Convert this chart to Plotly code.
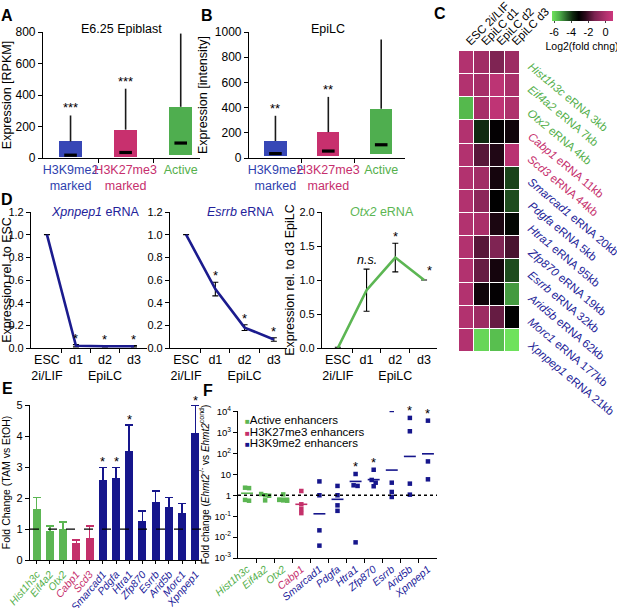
import plotly.graph_objects as go
import numpy as np

W, H = 617, 608
FONT = "Liberation Sans, Arial, sans-serif"
GREEN = "#55b04c"
MAG = "#c62f6d"
BLUE = "#22229a"

# ---------------- data ----------------
# Panel A (E6.25 epiblast, RPKM)
a_labels = ["H3K9me2<br>marked", "H3K27me3<br>marked", "Active"]
a_q1 = [5, 8, 18]
a_med = [18, 35, 95]
a_q3 = [105, 180, 325]
a_upper = [270, 440, 790]
a_sig = ["***", "***", ""]
# Panel B (EpiLC, intensity)
b_q1 = [15, 15, 32]
b_med = [35, 55, 105]
b_q3 = [135, 205, 390]
b_upper = [335, 485, 940]
b_sig = ["**", "**", ""]

# Panel C heatmap (log2 fold change)
c_cols = ["ESC 2i/LIF", "EpiLC d1", "EpiLC d2", "EpiLC d3"]
c_genes = ["Hist1h3c", "Eif4a2", "Otx2", "Cabp1", "Scd3", "Smarcad1", "Pdgfa",
           "Htra1", "Zfp870", "Esrrb", "Arid5b", "Morc1", "Xpnpep1"]
c_dist = ["3kb", "7kb", "4kb", "11kb", "44kb", "20kb", "5kb", "95kb", "19kb",
          "32kb", "62kb", "177kb", "21kb"]
c_group = ["act", "act", "act", "k27", "k27", "k9", "k9", "k9", "k9", "k9", "k9", "k9", "k9"]
c_z = [
    [0.0, -0.4, -1.2, -0.5],
    [0.0, -0.3, 0.3, -0.2],
    [-5.6, -0.3, 0.4, -0.1],
    [0.0, -3.9, -3.1, -2.9],
    [0.0, -1.8, -2.6, 0.2],
    [0.0, -0.4, -2.8, -4.2],
    [0.0, -0.9, -3.2, -4.3],
    [0.0, -0.2, -2.7, -3.3],
    [0.0, -1.8, -1.2, -2.0],
    [0.0, -1.6, -2.8, -4.3],
    [0.0, -2.9, -3.1, -5.2],
    [0.0, -0.5, -1.6, -3.2],
    [0.0, -6.1, -5.7, -6.3],
]

# Panel D time courses
d_x = ["ESC<br>2i/LIF", "d1", "d2<br>EpiLC", "d3"]
d_xpnpep1 = [1.0, 0.02, 0.015, 0.015]
d_xpnpep1_err = [0.0, 0.01, 0.006, 0.006]
d_xpnpep1_sig = ["", "*", "*", "*"]
d_esrrb = [1.0, 0.52, 0.18, 0.075]
d_esrrb_err = [0.0, 0.06, 0.025, 0.015]
d_esrrb_sig = ["", "*", "*", "*"]
d_otx2 = [0.0, 0.85, 1.33, 1.0]
d_otx2_err = [0.01, 0.31, 0.21, 0.0]

# Panel E (TAM vs EtOH)
e_genes = ["Hist1h3c", "Eif4a2", "Otx2", "Cabp1", "Scd3", "Smarcad1", "Pdgfa",
           "Htra1", "Zfp870", "Esrrb", "Arid5b", "Morc1", "Xpnpep1"]
e_group = ["act", "act", "act", "k27", "k27", "k9", "k9", "k9", "k9", "k9", "k9", "k9", "k9"]
e_val = [1.62, 0.9, 0.98, 0.52, 0.68, 2.58, 2.62, 3.5, 1.25, 1.86, 1.7, 1.5, 4.08]
e_err = [0.4, 0.2, 0.25, 0.13, 0.42, 0.42, 0.38, 0.87, 0.33, 0.37, 0.33, 0.33, 0.92]
e_sig = ["", "", "", "", "", "*", "*", "*", "", "", "", "", "*"]

# Panel F (Ehmt2 -/- vs cond, log scale)
f_genes = ["Hist1h3c", "Eif4a2", "Otx2", "Cabp1", "Smarcad1", "Pdgfa", "Htra1",
           "Zfp870", "Esrrb", "Arid5b", "Xpnpep1"]
f_group = ["act", "act", "act", "k27", "k9", "k9", "k9", "k9", "k9", "k9", "k9"]
f_points = [
    [2.3, 2.2, 0.55, 0.6],
    [1.15, 1.0, 0.95, 0.57],
    [1.1, 0.6, 0.55, 0.57],
    [1.6, 0.37, 0.22, 0.14],
    [4.6, 1.0, 0.021, 0.0039],
    [2.8, 1.0, 0.33, 0.18],
    [10.4, 3.0, 2.8, 0.0056],
    [16.6, 5.4, 4.0, 2.7],
    [12000, 4.0, 1.44, 0.83],
    [5000, 1150, 3.6, 1.07],
    [3700, 41.6, 5.8],
]
f_mean = [1.25, 1.0, 0.72, 0.37, 0.13, 0.64, 4.6, 5.6, 16, 72, 96]
f_sig = ["", "", "", "", "", "", "*", "*", "", "*", "*"]
f_legend = ["Active enhancers", "H3K27me3 enhancers", "H3K9me2 enhancers"]

GCOL = {"act": GREEN, "k27": MAG, "k9": BLUE}

# ---------------- helpers ----------------
def xd(a, b):
    return [a / W, b / W]


def yd(top, bot):
    return [1 - bot / H, 1 - top / H]


def px(x):
    return x / W


def py(y):
    return 1 - y / H


def cspan(t, c, italic=True):
    t2 = f"<i>{t}</i>" if italic else t
    return f"<span style='color:{c}'>{t2}</span>"


AX = dict(showline=True, linecolor="black", linewidth=1.2, ticks="outside",
          ticklen=4, tickcolor="black", tickwidth=1.1, showgrid=False,
          zeroline=False, automargin=False, tickfont=dict(size=12, color="black"))

fig = go.Figure()
annots = []


def panel_letter(t, x, y):
    annots.append(dict(text=f"<b>{t}</b>", x=px(x), y=py(y), xref="paper", yref="paper",
                       showarrow=False, font=dict(size=16, color="black"),
                       xanchor="center", yanchor="middle"))


def title_note(t, x, y, color="black", size=12.5):
    annots.append(dict(text=t, x=px(x), y=py(y), xref="paper", yref="paper",
                       showarrow=False, xanchor="center", yanchor="middle",
                       font=dict(size=size, color=color)))


# ---------------- A & B box-like plots ----------------
box_cols = ["#3747b6", "#c8306e", "#4fae4f"]


def add_box(xa, ya, q1, med, q3, up, sig):
    xs = list(range(len(q1)))
    fig.add_trace(go.Bar(x=xs, y=np.array(q3) - np.array(q1), base=q1, width=0.42,
                         marker=dict(color=box_cols, line=dict(width=0)),
                         xaxis=xa, yaxis=ya, showlegend=False))
    wx, wy = [], []
    for i in xs:
        wx += [i, i, None]
        wy += [q3[i], up[i], None]
    fig.add_trace(go.Scatter(x=wx, y=wy, mode="lines", line=dict(color="#1a1a1a", width=1.6),
                             xaxis=xa, yaxis=ya, showlegend=False))
    fig.add_trace(go.Scatter(x=xs, y=med, mode="markers",
                             marker=dict(symbol="line-ew", size=9, line=dict(width=3.2, color="black")),
                             xaxis=xa, yaxis=ya, showlegend=False))
    for i in xs:
        if sig[i]:
            annots.append(dict(text=sig[i], x=i, y=up[i], xref=xa, yref=ya, showarrow=False,
                               yanchor="bottom", yshift=-2, font=dict(size=13, color="black")))


add_box("x", "y", a_q1, a_med, a_q3, a_upper, a_sig)
add_box("x2", "y2", b_q1, b_med, b_q3, b_upper, b_sig)

ab_ticktext = [cspan(a_labels[0], "#2f3fae", False), cspan(a_labels[1], MAG, False),
               cspan(a_labels[2], GREEN, False)]
fig.update_layout(
    xaxis=dict(AX, domain=xd(43, 200), range=[-0.5, 2.35], anchor="y", tickvals=[0, 1, 2],
               ticktext=ab_ticktext, ticks="", tickangle=0, tickfont=dict(size=12.5),
               minor=dict(tickvals=[0.5, 1.5], ticks="outside", ticklen=4, tickcolor="black")),
    yaxis=dict(AX, domain=yd(32, 158), range=[0, 800], dtick=200, anchor="x",
               title=dict(text="Expression [RPKM]", font=dict(size=12.5), standoff=4)),
    xaxis2=dict(AX, domain=xd(249, 405), range=[-0.5, 2.45], anchor="y2", tickvals=[0, 1, 2],
                ticktext=ab_ticktext, ticks="", tickangle=0, tickfont=dict(size=12.5),
                minor=dict(tickvals=[0.5, 1.5], ticks="outside", ticklen=4, tickcolor="black")),
    yaxis2=dict(AX, domain=yd(32, 158), range=[0, 1000], dtick=200, anchor="x2",
                title=dict(text="Expression [intensity]", font=dict(size=12.5), standoff=4)),
)
title_note("E6.25 Epiblast", 121, 29)
title_note("EpiLC", 328, 29)

# ---------------- C heatmap ----------------
cscale = [
    [0.0, "#6ee25c"], [0.12, "#4fb04a"], [0.25, "#265e26"], [0.34, "#0f280f"],
    [0.44, "#000000"], [0.55, "#2c0a1c"], [0.7, "#7a2250"], [0.89, "#b3326f"],
    [1.0, "#cc377c"],
]
fig.add_trace(go.Heatmap(
    z=c_z, x=list(range(len(c_cols))), y=list(range(len(c_genes))),
    xaxis="x3", yaxis="y3", colorscale=cscale, zmin=-6.3, zmax=0.8, xgap=1, ygap=1,
    colorbar=dict(orientation="h", x=px(582), xanchor="center", y=py(11), yanchor="top",
                  len=61 / W, lenmode="fraction", thickness=10, tickvals=[-6, -4, -2, 0],
                  ticktext=["-6", "-4", "-2", "0"],
                  ticks="outside", ticklen=2, tickfont=dict(size=11, color="black"),
                  outlinewidth=0, xpad=0, ypad=0,
                  title=dict(text="Log2(fold chng)", side="bottom", font=dict(size=10.5))),
    showscale=True, hoverinfo="skip"))
fig.update_layout(
    xaxis3=dict(domain=xd(459, 520), anchor="y3", side="top", tickvals=list(range(4)),
                ticktext=c_cols, tickangle=-45, ticks="", showline=False, showgrid=False,
                zeroline=False, automargin=False, tickfont=dict(size=11.5, color="black"),
                range=[-0.5, 3.5]),
    yaxis3=dict(domain=yd(51, 352), anchor="x3", range=[12.5, -0.5], autorange=False,
                showticklabels=False, ticks="", showline=False, showgrid=False,
                zeroline=False, automargin=False),
)
for i, g in enumerate(c_genes):
    annots.append(dict(text=f"<i>{g}</i> eRNA {c_dist[i]}", x=px(523), y=i, xref="paper",
                       yref="y3", showarrow=False, textangle=40, xanchor="left",
                       yanchor="top", yshift=5,
                       font=dict(size=11.5, color=GCOL[c_group[i]] if c_group[i] != "k9" else "#1e1e98")))

# ---------------- D line plots ----------------
DBLUE = "#1b1b8e"
DGREEN = "#5cb653"


def add_line(xa, ya, vals, err, color):
    fig.add_trace(go.Scatter(x=list(range(4)), y=vals, mode="lines",
                             line=dict(color=color, width=2.6),
                             error_y=dict(type="data", array=err, color="black", thickness=1.1, width=3),
                             xaxis=xa, yaxis=ya, showlegend=False))


add_line("x4", "y4", d_xpnpep1, d_xpnpep1_err, DBLUE)
add_line("x5", "y5", d_esrrb, d_esrrb_err, DBLUE)
add_line("x6", "y6", d_otx2, d_otx2_err, DGREEN)

DX = dict(AX, tickvals=[0, 1, 2, 3], ticktext=d_x, ticks="", tickangle=0, range=[-0.55, 3.45],
          tickfont=dict(size=12.5),
          minor=dict(tickvals=[0.5, 1.5, 2.5], ticks="outside", ticklen=4, tickcolor="black"))
DY = dict(AX, tickfont=dict(size=11))
fig.update_layout(
    xaxis4=dict(DX, domain=xd(31, 147), anchor="y4"),
    yaxis4=dict(DY, domain=yd(212, 348), anchor="x4", range=[0, 1.2], dtick=0.2, tickformat=".1f",
                title=dict(text="Expression rel. to ESC", font=dict(size=12.5), standoff=2)),
    xaxis5=dict(DX, domain=xd(170, 287), anchor="y5"),
    yaxis5=dict(DY, domain=yd(212, 348), anchor="x5", range=[0, 1.2], dtick=0.2, tickformat=".1f"),
    xaxis6=dict(DX, domain=xd(322, 437), anchor="y6"),
    yaxis6=dict(DY, domain=yd(212, 348), anchor="x6", range=[0, 2.0], dtick=0.5, tickformat=".1f",
                title=dict(text="Expression rel. to d3 EpiLC", font=dict(size=12.5), standoff=2)),
)
for xa, ya, vals, err, sig in [("x4", "y4", d_xpnpep1, d_xpnpep1_err, d_xpnpep1_sig),
                               ("x5", "y5", d_esrrb, d_esrrb_err, d_esrrb_sig)]:
    for i in range(4):
        if sig[i]:
            annots.append(dict(text=sig[i], x=i, y=vals[i] + err[i], xref=xa, yref=ya,
                               showarrow=False, yanchor="bottom", yshift=-3,
                               font=dict(size=13, color="black")))
annots.append(dict(text="<i>n.s.</i>", x=1, y=d_otx2[1] + d_otx2_err[1], xref="x6", yref="y6",
                   showarrow=False, yanchor="bottom", yshift=0, font=dict(size=12.5, color="black")))
annots.append(dict(text="*", x=2, y=d_otx2[2] + d_otx2_err[2], xref="x6", yref="y6",
                   showarrow=False, yanchor="bottom", yshift=-3, font=dict(size=13, color="black")))
annots.append(dict(text="*", x=3, y=d_otx2[3], xref="x6", yref="y6", showarrow=False,
                   yanchor="bottom", xshift=5, yshift=0, font=dict(size=13, color="black")))
title_note("<i>Xpnpep1</i> eRNA", 95, 212, BLUE)
title_note("<i>Esrrb</i> eRNA", 240, 212, BLUE)
title_note("<i>Otx2</i> eRNA", 382, 212, DGREEN)

# ---------------- E bar chart ----------------
EBLUE = "#16168c"
ECOL = {"act": "#5cb653", "k27": "#c4306a", "k9": EBLUE}
for grp in ["act", "k27", "k9"]:
    idx = [i for i, g in enumerate(e_group) if g == grp]
    fig.add_trace(go.Bar(x=[e_genes[i] for i in idx], y=[e_val[i] for i in idx], width=0.6,
                         marker=dict(color=ECOL[grp], line=dict(width=0)),
                         error_y=dict(type="data", symmetric=False,
                                      array=[e_err[i] for i in idx],
                                      arrayminus=[0] * len(idx), color=ECOL[grp],
                                      thickness=1.6, width=4),
                         xaxis="x7", yaxis="y7", showlegend=False))
for i, s in enumerate(e_sig):
    if s:
        annots.append(dict(text=s, x=e_genes[i], y=e_val[i] + e_err[i], xref="x7", yref="y7",
                           showarrow=False, yanchor="bottom", yshift=-4,
                           font=dict(size=13, color="black")))
fig.add_shape(type="line", xref="x7 domain", yref="y7", x0=0, x1=1, y0=1, y1=1,
              line=dict(color="black", width=1.3, dash="dash"))
fig.update_layout(
    xaxis7=dict(AX, domain=xd(30, 202), anchor="y7", type="category", categoryorder="array",
                categoryarray=e_genes, tickvals=e_genes, ticklen=3,
                ticktext=[cspan(g, GCOL[e_group[i]]) for i, g in enumerate(e_genes)],
                tickangle=-50, tickfont=dict(size=10.5), range=[-0.5, 12.5]),
    yaxis7=dict(AX, domain=yd(405, 560), anchor="x7", range=[0, 5.02], dtick=1,
                tickfont=dict(size=11),
                title=dict(text="Fold Change (TAM vs EtOH)", font=dict(size=10.5), standoff=4)),
)

# ---------------- F scatter (log) ----------------
def swarm_offsets(vals, thr=0.15, step=0.22):
    order = np.argsort(np.log10(vals))[::-1]
    lv = np.log10(np.array(vals))
    groups, cur = [], [order[0]]
    for k in order[1:]:
        if abs(lv[k] - lv[cur[-1]]) < thr:
            cur.append(k)
        else:
            groups.append(cur)
            cur = [k]
    groups.append(cur)
    off = np.zeros(len(vals))
    for g in groups:
        n = len(g)
        for j, k in enumerate(g):
            off[k] = (j - (n - 1) / 2) * step
    return off


FCOL = {"act": "#5cb653", "k27": "#c4306a", "k9": "#16168c"}
for grp in ["act", "k27", "k9"]:
    xs, ys, lx, ly = [], [], [], []
    for i, g in enumerate(f_group):
        if g != grp:
            continue
        off = swarm_offsets(f_points[i])
        xs += list(i + off)
        ys += f_points[i]
        lx += [i - 0.33, i + 0.33, None]
        ly += [f_mean[i], f_mean[i], None]
    fig.add_trace(go.Scatter(x=xs, y=ys, mode="markers",
                             marker=dict(symbol="square", size=4.5, color=FCOL[grp]),
                             xaxis="x8", yaxis="y8", showlegend=False))
    fig.add_trace(go.Scatter(x=lx, y=ly, mode="lines", line=dict(color=FCOL[grp], width=1.6),
                             xaxis="x8", yaxis="y8", showlegend=False))
fig.add_trace(go.Scatter(x=[-0.5, 10.5], y=[1, 1], mode="lines",
                         line=dict(color="black", width=1.5, dash="dot"),
                         xaxis="x8", yaxis="y8", showlegend=False))
for i, s in enumerate(f_sig):
    if s:
        annots.append(dict(text=s, x=i, y=float(np.log10(max(f_points[i]))), xref="x8", yref="y8",
                           showarrow=False, yanchor="bottom", yshift=-2,
                           font=dict(size=13, color="black")))
ftv = [1e-3, 1e-2, 1e-1, 1, 10, 100, 1000, 10000]
ftt = ["10<sup>-3</sup>", "10<sup>-2</sup>", "10<sup>-1</sup>", "1", "10",
       "10<sup>2</sup>", "10<sup>3</sup>", "10<sup>4</sup>"]
fig.update_layout(
    xaxis8=dict(AX, domain=xd(238, 437), anchor="y8", range=[-0.5, 10.5],
                tickvals=list(range(11)),
                ticktext=[cspan(g, GCOL[f_group[i]]) for i, g in enumerate(f_genes)],
                tickangle=-40, ticks="", tickfont=dict(size=10.5),
                minor=dict(tickvals=[k + 0.5 for k in range(10)], ticks="outside",
                           ticklen=4, tickcolor="black")),
    yaxis8=dict(AX, domain=yd(411, 558), anchor="x8", type="log", range=[-3, 4.03],
                tickvals=ftv, ticktext=ftt, tickfont=dict(size=9.5),
                title=dict(text="Fold change (<i>Ehmt2</i><sup>-/-</sup> vs <i>Ehmt2</i><sup>cond</sup>)",
                           font=dict(size=10), standoff=3)),
)
for k, (txt, grp) in enumerate(zip(f_legend, ["act", "k27", "k9"])):
    annots.append(dict(text=f"<span style='color:{FCOL[grp]};font-size:8px'>■</span>{txt}",
                       x=px(243), y=py(420 + 11.5 * k), xref="paper", yref="paper",
                       showarrow=False, xanchor="left", yanchor="middle",
                       font=dict(size=11.5, color="black")))

# panel letters
panel_letter("A", 7, 15)
panel_letter("B", 207, 15)
panel_letter("C", 440, 14)
panel_letter("D", 7, 199)
panel_letter("E", 7, 388)
panel_letter("F", 208, 390)

fig.update_layout(template="none", width=W, height=H, autosize=False,
                  margin=dict(l=0, r=0, t=0, b=0, autoexpand=False),
                  paper_bgcolor="white", plot_bgcolor="white", bargap=0,
                  font=dict(family=FONT, color="black"), annotations=annots, showlegend=False)
fig.write_html("out.html", config={"displayModeBar": False},
               post_script="document.body.style.margin='0px';document.body.style.padding='0px';")
